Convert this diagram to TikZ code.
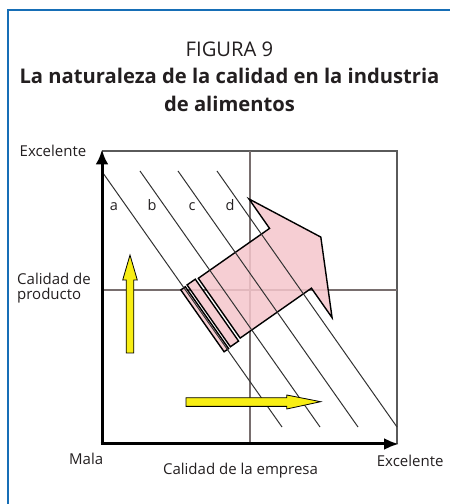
\documentclass[tikz,border=0pt]{standalone}
\usepackage{fontspec}
\usetikzlibrary{arrows.meta}
\setmainfont{Open Sans}
\definecolor{framblue}{RGB}{22,110,182}
\definecolor{pinkfill}{RGB}{245,198,203}
\definecolor{yel}{RGB}{248,238,20}
\definecolor{midgray}{RGB}{120,110,110}
\definecolor{boxgray}{RGB}{90,90,90}
\definecolor{diag}{RGB}{50,50,50}
\definecolor{txt}{RGB}{35,31,32}
\tikzset{
  lbl/.style={font=\fontsize{15}{17}\selectfont, inner sep=0pt, anchor=base, text=txt},
  ltr/.style={font=\fontsize{14.5}{17}\selectfont, inner sep=0pt, anchor=base, text=txt},
  ttl/.style={font=\fontsize{20.2}{22}\selectfont, inner sep=0pt, anchor=base, text=txt},
  ttlb/.style={font=\bfseries\fontsize{20.2}{22}\selectfont, inner sep=0pt, anchor=base, text=txt},
  diagline/.style={draw=diag, line width=1pt},
  pinkshape/.style={fill=pinkfill, fill opacity=0.85, draw=black, line width=1.4pt, line join=miter},
  yelarrow/.style={fill=yel, draw=black, line width=0.8pt},
  axis/.style={line width=3pt, black},
}
\begin{document}
\begin{tikzpicture}[x=1pt,y=1pt]
\useasboundingbox (0,0) rectangle (450,504);
% frame
\draw[framblue, line width=2pt] (450,493.8) -- (7.8,493.8) -- (7.8,0);
% titles
\node[ttl] (t1) at (229.5,447.3) {FIGURA 9};
\node[ttlb] (t2) at (229.5,420.7) {La naturaleza de la calidad en la industria};
\node[ttlb] (t3) at (229.5,392.3) {de alimentos};
% box
\draw[boxgray, line width=1.5pt] (102,353) -- (397,353) -- (397,60);
% midlines
\draw[midgray, line width=1.1pt] (250,353) -- (250,60);
\draw[midgray, line width=1.1pt] (102,214) -- (397,214);
% pink arrow
\begin{scope}[shift={(198.3,225.7)}, rotate=35]
  \path[pinkshape] (0,0) -- (87,0) -- (87,36) -- (124,-36.5) -- (87,-109) -- (87,-73) -- (0,-73) -- cycle;
  \path[pinkshape] (-13,1) rectangle (-3,-74.5);
  \path[pinkshape] (-21,0.5) rectangle (-15.5,-75);
\end{scope}
% diagonal lines
\draw[diagline] (103,331) -- (282,77);
\draw[diagline] (140,333) -- (320,77);
\draw[diagline] (178,333) -- (358,77);
\draw[diagline] (217,333) -- (397,77);
% axes
\draw[axis, -{Latex[length=15pt,width=13pt]}] (102,60) -- (102,354.5);
\draw[axis, -{Latex[length=15pt,width=12pt]}] (100.5,60) -- (399,60);
% yellow arrows
\path[yelarrow] (126.2,151) -- (126.2,224) -- (122.7,224) -- (130,249) -- (137.3,224) -- (133.8,224) -- (133.8,151) -- cycle;
\path[yelarrow] (186,106.3) -- (286.7,106.3) -- (286.7,109) -- (320.7,102.3) -- (286.7,95) -- (286.7,97.6) -- (186,97.6) -- cycle;
% letters
\node[ltr] (la) at (114,293) {a};
\node[ltr] (lb) at (152,293) {b};
\node[ltr] (lc) at (192,293) {c};
\node[ltr] (ld) at (230,293) {d};
% axis labels
\node[lbl, anchor=base west] (ex1) at (19.5,347.3) {Excelente};
\node[lbl, anchor=base west] (cp1) at (17,219) {Calidad de};
\node[lbl, anchor=base west] (cp2) at (17,204) {producto};
\node[lbl, anchor=base west] (mala) at (69,39) {Mala};
\node[lbl] (ce) at (240.5,29) {Calidad de la empresa};
\node[lbl, anchor=base west] (ex2) at (376.7,37.3) {Excelente};
\end{tikzpicture}
\end{document}
